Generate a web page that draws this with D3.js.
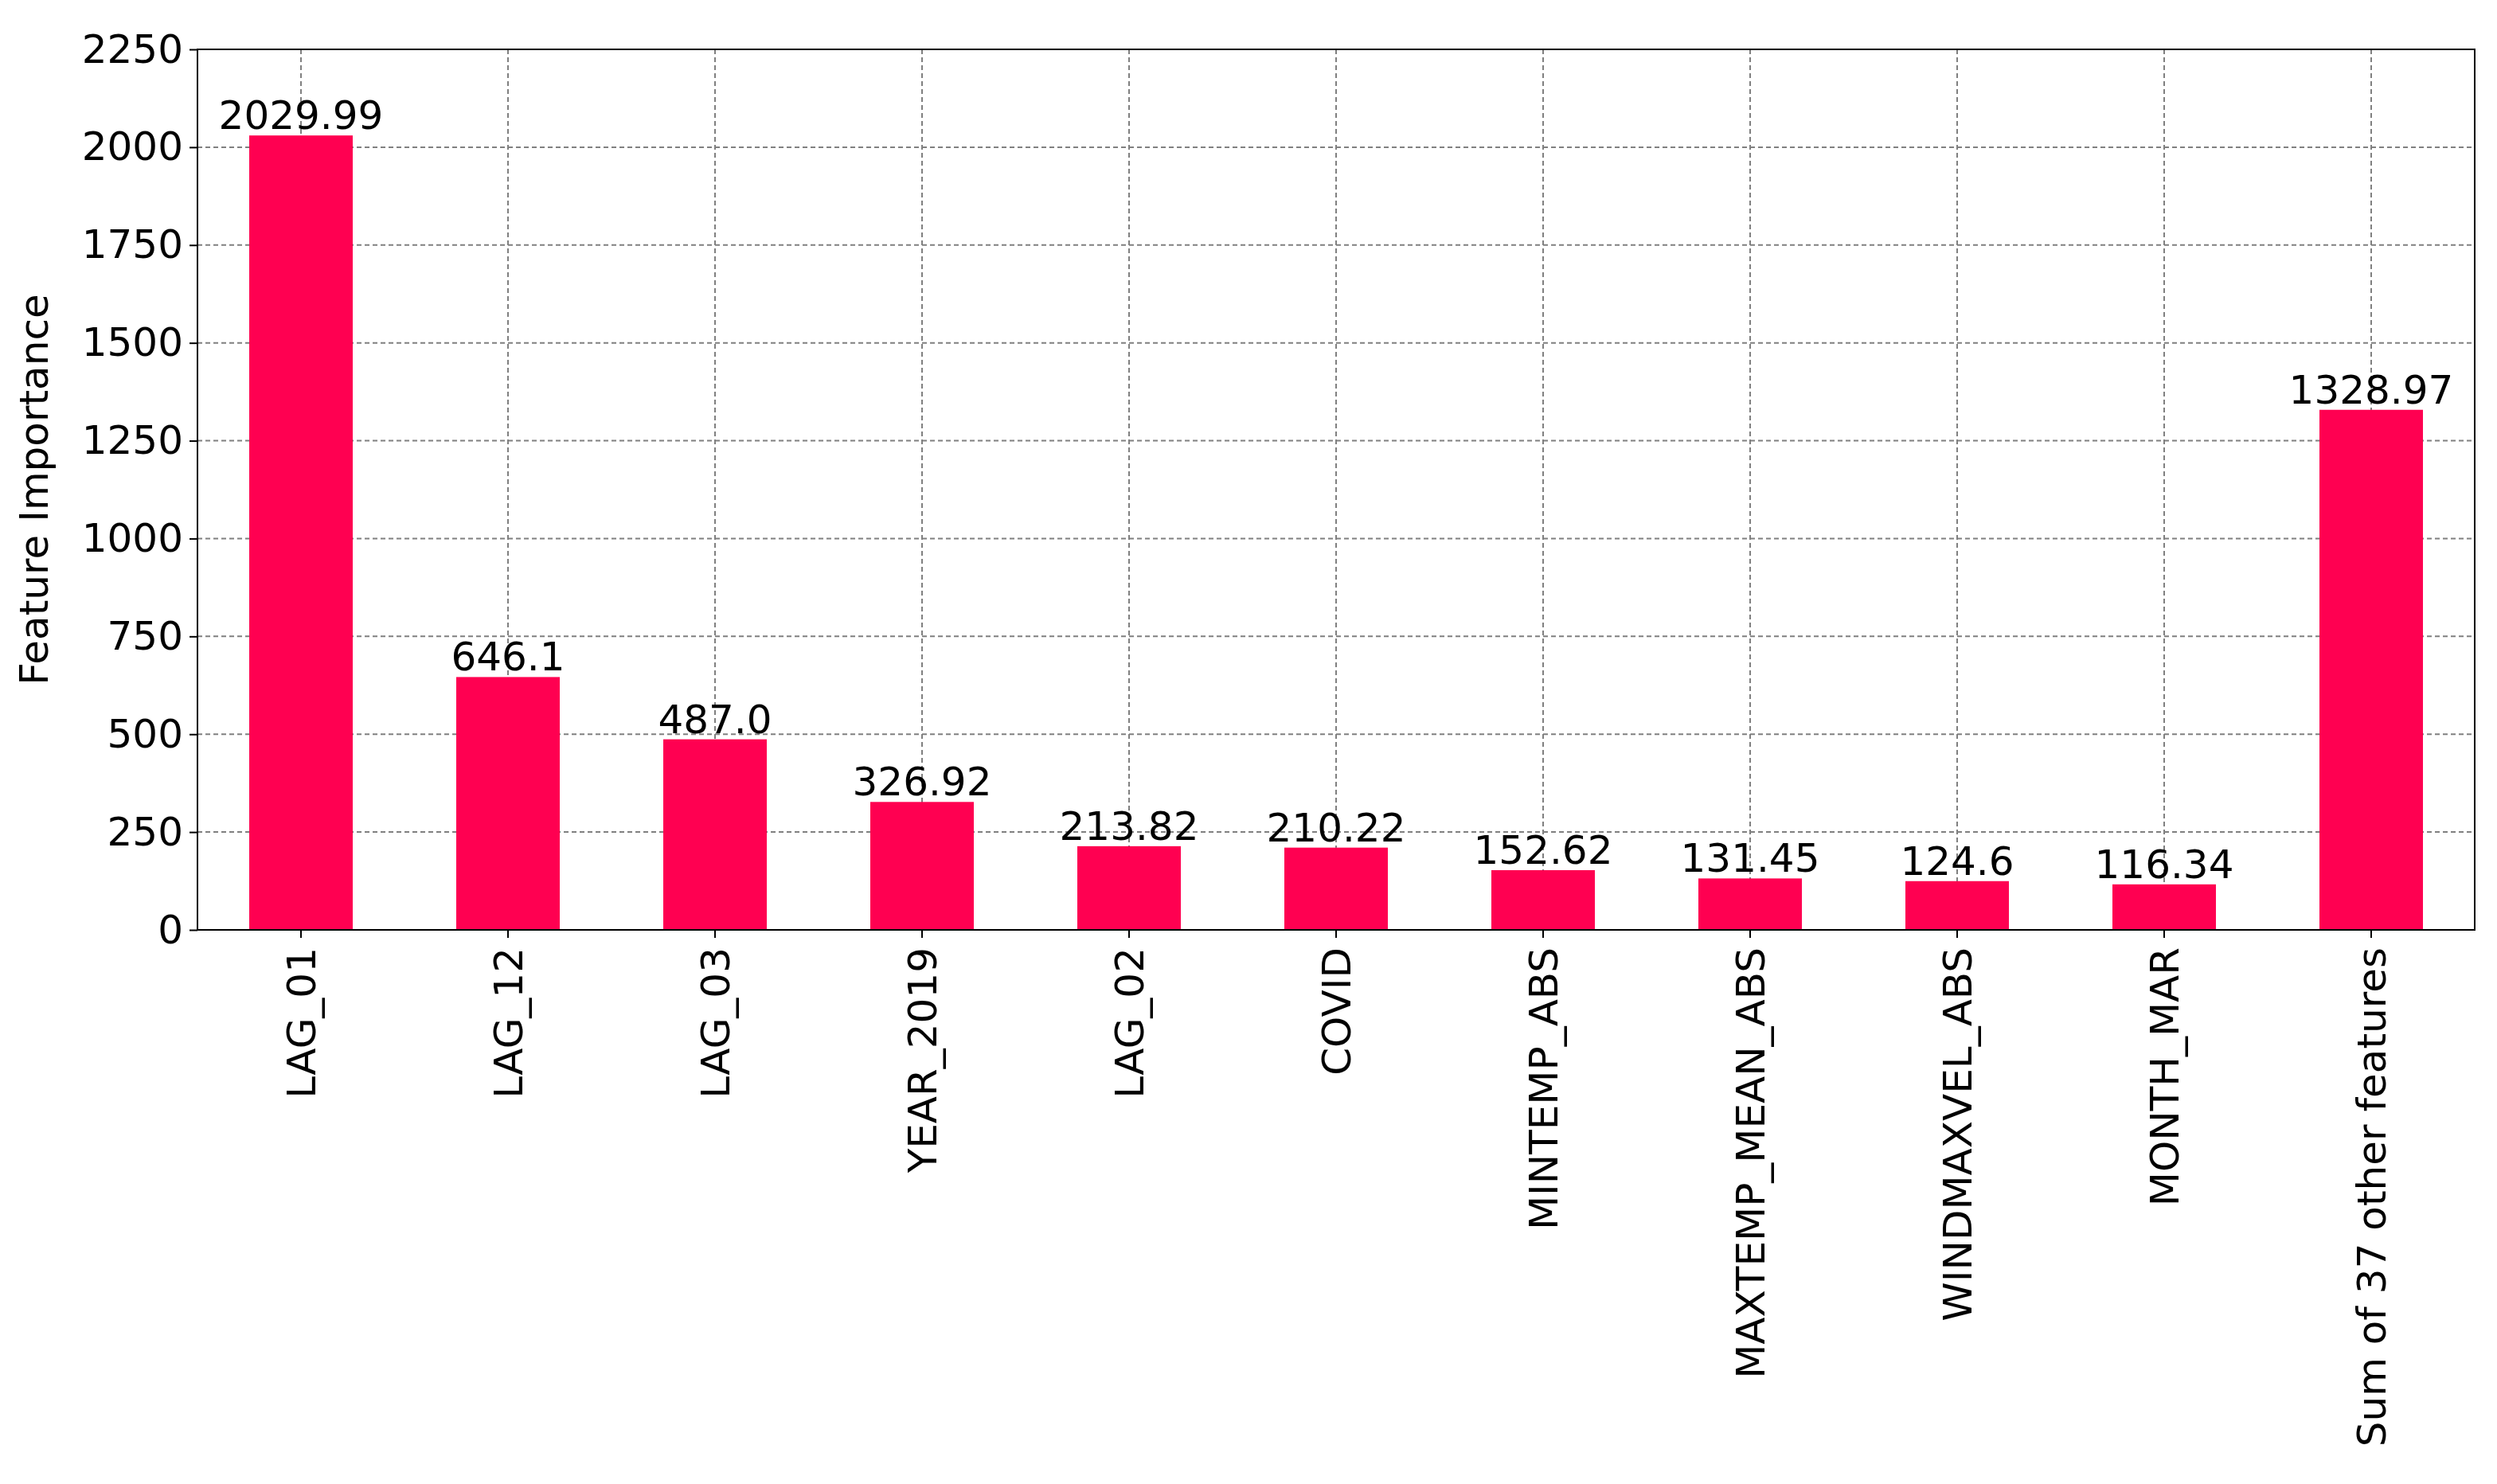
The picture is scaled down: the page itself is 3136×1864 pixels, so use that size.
<!DOCTYPE html>
<html lang="en">
<head>
<meta charset="UTF-8">
<title>Feature Importance</title>
<script src="https://d3js.org/d3.v7.min.js"></script>
<style>
	body, html { margin: 0; padding: 0; background: #fff; overflow: hidden; }
	text { font-family: "DejaVu Sans", sans-serif; fill: #000; }
	.grid line { stroke: #808080; stroke-dasharray: 6,4; stroke-width: 2; }
</style>
</head>
<body>
<div id="chart"></div>
<script>
	// Chart data
	const features = ["LAG_01", "LAG_12", "LAG_03", "YEAR_2019", "LAG_02", "COVID",
		"MINTEMP_ABS", "MAXTEMP_MEAN_ABS", "WINDMAXVEL_ABS", "MONTH_MAR", "Sum of 37 other features"];
	const importance = [2029.99, 646.1, 487.0, 326.92, 213.82, 210.22, 152.62, 131.45, 124.6, 116.34, 1328.97];
	const valueLabels = ["2029.99", "646.1", "487.0", "326.92", "213.82", "210.22", "152.62", "131.45", "124.6", "116.34", "1328.97"];
	const yTicks = [0, 250, 500, 750, 1000, 1250, 1500, 1750, 2000, 2250];

	const width = 3136, height = 1864;
	const margin = { left: 248, right: 28, top: 62, bottom: 696 };
	const fs = 50;

	const svg = d3.select("#chart").append("svg")
		.attr("width", width).attr("height", height);

	const x = d3.scaleBand().domain(features)
		.range([margin.left, width - margin.right]).paddingInner(0.5).paddingOuter(0.25);
	const y = d3.scaleLinear().domain([0, 2250])
		.range([height - margin.bottom, margin.top]);

	// grid
	const grid = svg.append("g").attr("class", "grid");
	grid.selectAll(".h").data(yTicks).enter().append("line")
		.attr("x1", margin.left).attr("x2", width - margin.right)
		.attr("y1", d => y(d)).attr("y2", d => y(d));
	grid.selectAll(".v").data(features).enter().append("line")
		.attr("x1", d => x(d) + x.bandwidth() / 2).attr("x2", d => x(d) + x.bandwidth() / 2)
		.attr("y1", margin.top).attr("y2", height - margin.bottom);

	// bars
	svg.selectAll(".bar").data(features).enter().append("rect")
		.attr("x", d => x(d)).attr("width", x.bandwidth())
		.attr("y", (d, i) => y(importance[i]))
		.attr("height", (d, i) => y(0) - y(importance[i]))
		.attr("fill", "#ff0051");

	svg.selectAll(".val").data(features).enter().append("text")
		.attr("x", d => x(d) + x.bandwidth() / 2)
		.attr("y", (d, i) => y(importance[i]) - 8)
		.attr("text-anchor", "middle").attr("font-size", fs)
		.text((d, i) => valueLabels[i]);

	// axes
	const yAxis = svg.append("g").attr("transform", `translate(${margin.left},0)`)
		.call(d3.axisLeft(y).tickValues(yTicks).tickFormat(d3.format("d")).tickSize(10).tickPadding(8));
	const xAxis = svg.append("g").attr("transform", `translate(0,${height - margin.bottom})`)
		.call(d3.axisBottom(x).tickSize(10).tickPadding(10));
	[xAxis, yAxis].forEach(a => {
		a.selectAll("text").attr("font-size", fs).attr("font-family", "DejaVu Sans").attr("fill", "#000");
		a.selectAll("line").attr("stroke", "#000").attr("stroke-width", 2);
		a.select(".domain").remove();
	});
	xAxis.selectAll("text")
		.attr("transform", "rotate(-90)")
		.attr("text-anchor", "end")
		.attr("x", -22).attr("y", 0).attr("dy", "0.35em");

	// frame
	svg.append("rect")
		.attr("x", margin.left).attr("y", margin.top)
		.attr("width", width - margin.left - margin.right)
		.attr("height", height - margin.top - margin.bottom)
		.attr("fill", "none").attr("stroke", "#000").attr("stroke-width", 2);

	svg.append("text")
		.attr("transform", `translate(60,${(margin.top + height - margin.bottom) / 2}) rotate(-90)`)
		.attr("text-anchor", "middle").attr("font-size", fs)
		.text("Feature Importance");
</script>
</body>
</html>
